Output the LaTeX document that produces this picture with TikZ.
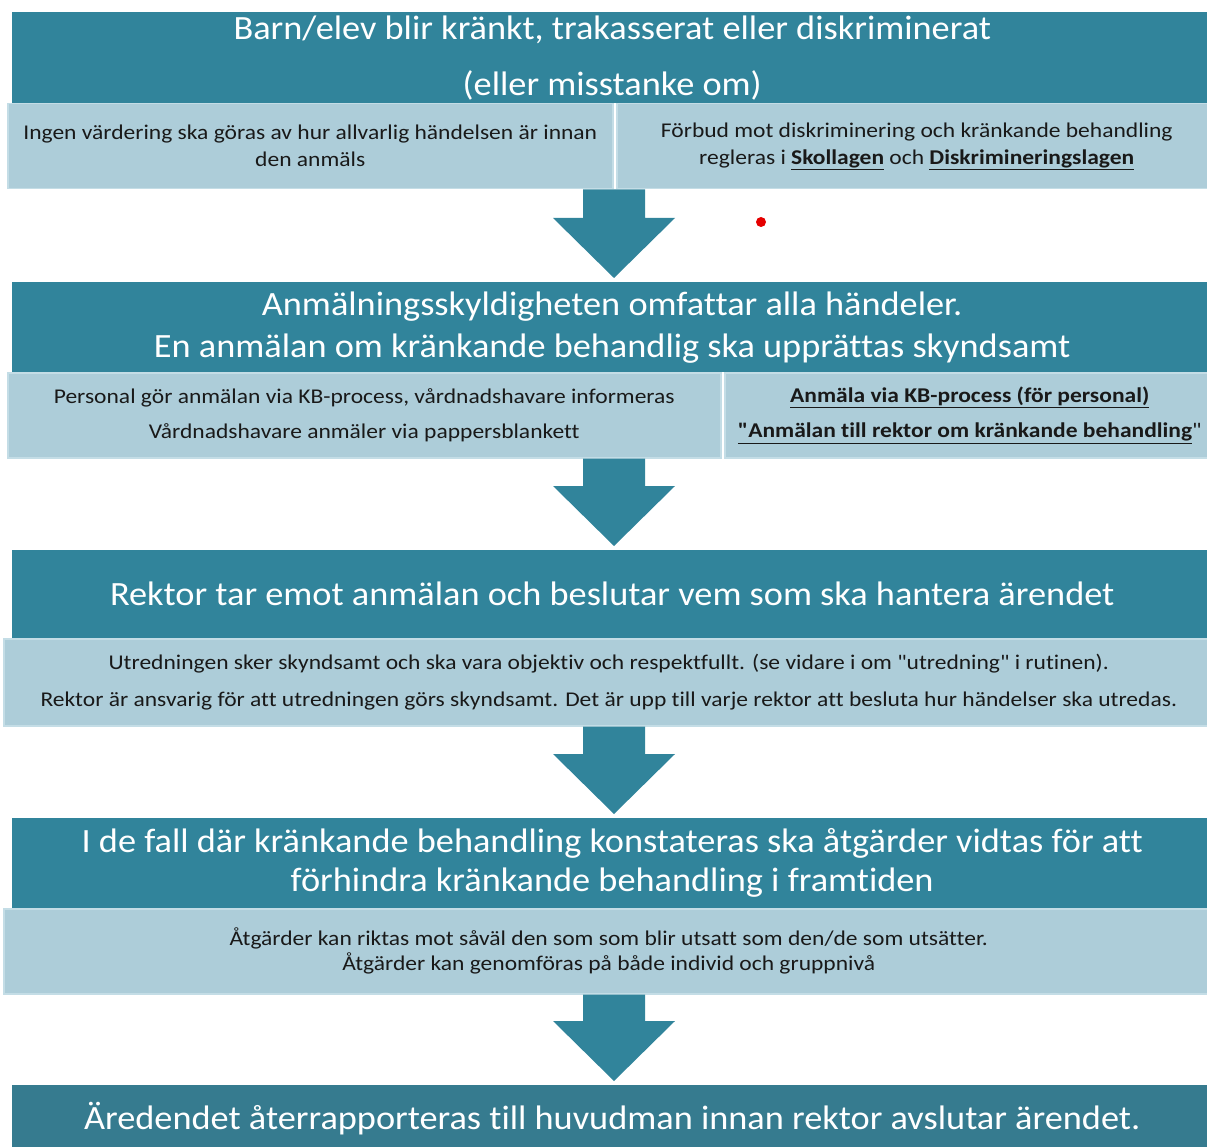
\documentclass[tikz,border=0pt]{standalone}
\usepackage{fontspec}
\setmainfont{Carlito}
\newfontfamily\headfont{Carlito}[FakeStretch=1.068,Ligatures=NoCommon]
\newfontfamily\infofont{Carlito}[FakeStretch=1.12,Ligatures={TeXOff,NoCommon}]
\usetikzlibrary{calc}
\definecolor{kbdark}{HTML}{31849B}
\definecolor{kbdeep}{HTML}{367B8F}
\definecolor{kblight}{HTML}{ADCDD9}
\definecolor{kbedge}{HTML}{C4DDE6}
\newcommand{\lnk}[1]{\underline{\textbf{#1}}}

\begin{document}
\begin{tikzpicture}[x=1pt,y=-1pt,
	head/.style={fill=kbdark,text=white,anchor=north west,inner sep=0pt,minimum width=1200pt,align=center},
	info/.style={fill=kblight,draw=kbedge,line width=1.5pt,anchor=north west,inner sep=0pt,minimum height=85pt,align=center,text=black!90}]
			\path[use as bounding box,clip] (0,0) rectangle (1207,1147);
			\coordinate (mid) at (614,0);
			% steg 1
			\node[head,minimum height=91pt,font=\headfont\fontsize{34}{56}\selectfont](h1) at (12,12) {Barn/elev blir kränkt, trakasserat eller diskriminerat\\(eller misstanke om)};
			\node[info,minimum width=605pt,font=\infofont\fontsize{21}{27}\selectfont](la1) at (7,103) {Ingen värdering ska göras av hur allvarlig händelsen är innan\\den anmäls};
			\node[info,minimum width=600pt,font=\infofont\fontsize{21}{27}\selectfont](lb1) at (616,103) {Förbud mot diskriminering och kränkande behandling\\regleras i \lnk{Skollagen} och \lnk{Diskrimineringslagen}};
			% steg 2
			\node[head,minimum height=90pt,font=\headfont\fontsize{34}{42}\selectfont](h2) at (12,282) {Anmälningsskyldigheten omfattar alla händeler.\\En anmälan om kränkande behandlig ska upprättas skyndsamt};
			\node[info,minimum width=713pt,font=\infofont\fontsize{21}{35}\selectfont](la2) at (7,372) {Personal gör anmälan via KB-process, vårdnadshavare informeras\\Vårdnadshavare anmäler via pappersblankett};
			\node[info,minimum width=490pt,font=\infofont\fontsize{21}{35}\selectfont](lb2) at (724,372) {\lnk{Anmäla via KB-process (för personal)}\\\lnk{"Anmälan till rektor om kränkande behandling}"};
			% steg 3
			\node[head,minimum height=88pt,font=\headfont\fontsize{34}{42}\selectfont](h3) at (12,550) {Rektor tar emot anmälan och beslutar vem som ska hantera ärendet};
			\node[info,minimum width=1210pt,minimum height=87pt,font=\infofont\fontsize{21}{37}\selectfont](l3) at (3,638) {Utredningen sker skyndsamt och ska vara objektiv och respektfullt. (se vidare i om "utredning" i rutinen).\\Rektor är ansvarig för att utredningen görs skyndsamt. Det är upp till varje rektor att besluta hur händelser ska utredas.};
			% steg 4
			\node[head,minimum height=90pt,font=\headfont\fontsize{34}{39}\selectfont](h4) at (12,818) {I de fall där kränkande behandling konstateras ska åtgärder vidtas för att\\förhindra kränkande behandling i framtiden};
			\node[info,minimum width=1210pt,font=\infofont\fontsize{21}{25}\selectfont](l4) at (3,908) {Åtgärder kan riktas mot såväl den som som blir utsatt som den/de som utsätter.\\Åtgärder kan genomföras på både individ och gruppnivå};
			% steg 5
			\node[head,fill=kbdeep,minimum height=66pt,font=\headfont\fontsize{34}{42}\selectfont](h5) at (12,1085) {Äredendet återrapporteras till huvudman innan rektor avslutar ärendet.};
			% pilar
			\foreach \a/\b in {la1/h2,la2/h3,l3/h4,l4/h5}
				\fill[kbdark] ($(mid |- \a.south)+(-31,0)$) -- ($(mid |- \a.south)+(31,0)$)
					-- ($(mid |- \b.north)+(31,-64)$) -- ($(mid |- \b.north)+(61,-64)$)
					-- ($(mid |- \b.north)+(0,-4)$)
					-- ($(mid |- \b.north)+(-61,-64)$) -- ($(mid |- \b.north)+(-31,-64)$) -- cycle;
			\fill[red!90!black] (761,222) circle (5);
\end{tikzpicture}
\end{document}
